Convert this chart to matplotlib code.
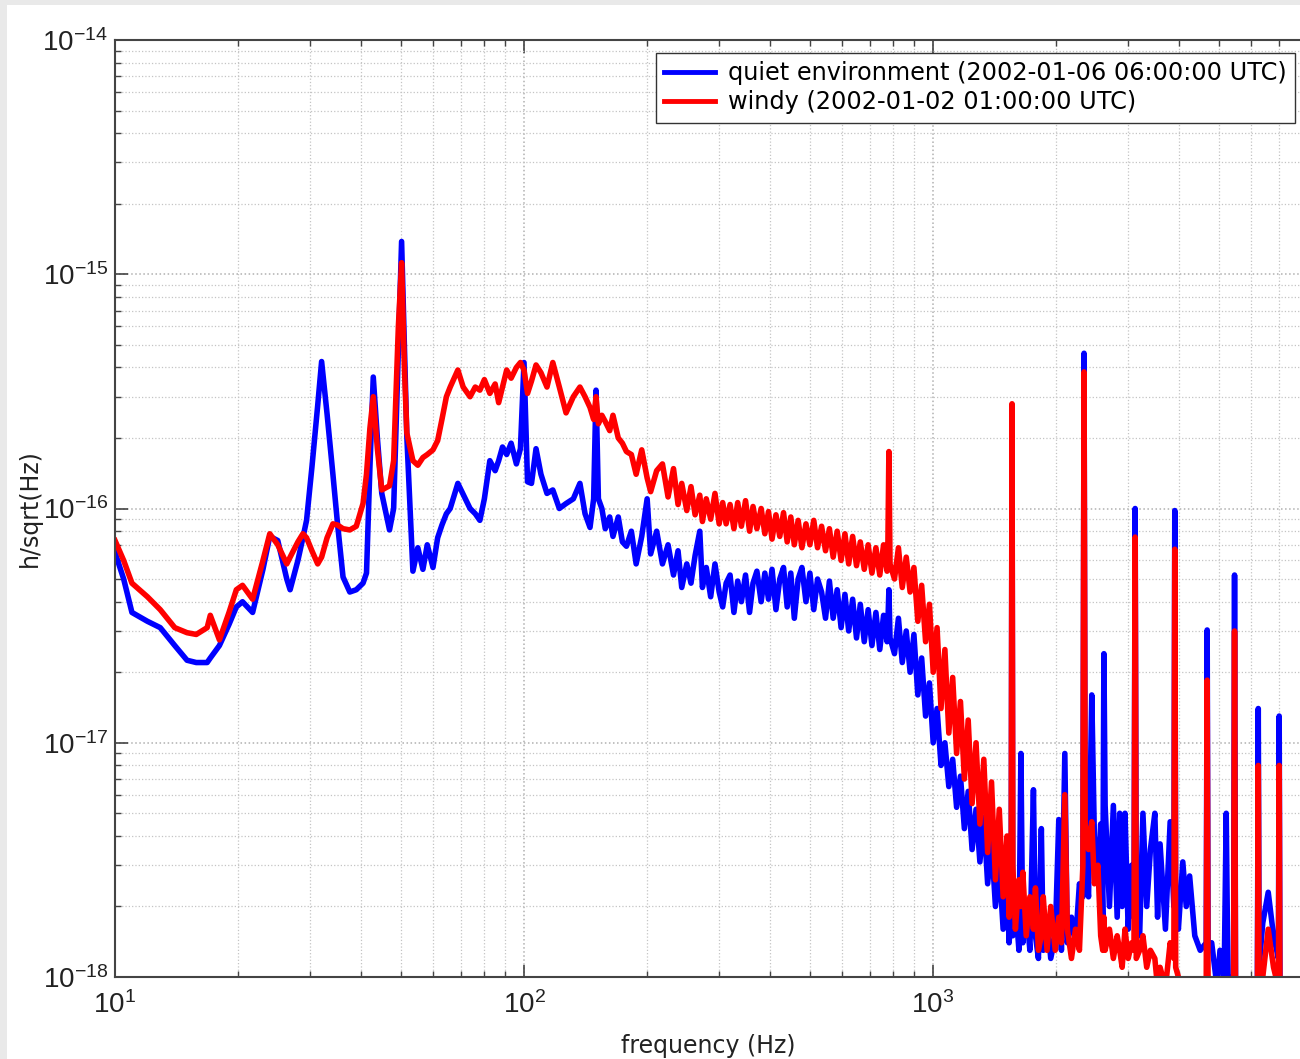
import numpy as np
import matplotlib.pyplot as plt
from matplotlib.patches import Rectangle

plt.rcParams['font.family'] = ['Liberation Sans', 'DejaVu Sans']
plt.rcParams['mathtext.fontset'] = 'custom'
plt.rcParams['mathtext.rm'] = 'Liberation Sans'
plt.rcParams['mathtext.it'] = 'Liberation Sans'
plt.rcParams['mathtext.default'] = 'regular'

# strain noise spectra, values in units of 1e-18 / sqrt(Hz)
freq = [
    10, 10.5, 11, 12, 12.9, 14, 15, 15.8, 16.8, 17.1,
    18, 19, 19.8, 20.5, 21.7, 23, 23.9, 25, 26.3, 26.8,
    28, 28.8, 29.4, 30.3, 31.3, 32, 33, 34.1, 35, 36.1,
    37.5, 38.9, 40.4, 41.2, 42, 42.8, 43.8, 44.9, 46.9, 48,
    49.3, 50.2, 51, 51.7, 53.5, 55, 56.6, 58, 59.9, 61.5,
    63, 64.6, 66, 68.9, 71, 73.8, 76, 78, 80, 82.5,
    85, 86.7, 88.6, 90.7, 93, 95.8, 98, 100, 102, 104.3,
    107, 110, 113.8, 117.6, 122, 126.7, 132, 137, 141, 145,
    148, 150, 152, 155, 158, 162, 165, 170, 174, 178,
    183, 188, 194, 200, 204, 211, 218, 225, 232, 238,
    243, 250, 256, 262, 269, 273, 279, 286, 293, 300,
    306, 312, 319, 326, 333, 340, 348, 356, 363, 371,
    380, 388, 396, 404, 413, 422, 431, 440, 449, 458,
    468, 478, 489, 500, 511, 522, 534, 546, 558, 570,
    583, 596, 609, 622, 636, 650, 664, 679, 694, 709,
    725, 741, 757, 772, 775, 780, 785, 805, 823, 841,
    860, 879, 898, 918, 938, 959, 980, 1001, 1023, 1046,
    1069, 1093, 1117, 1142, 1167, 1193, 1219, 1246, 1274, 1302,
    1331, 1360, 1390, 1421, 1452, 1484, 1517, 1535, 1553, 1560,
    1567, 1590, 1622, 1640, 1658, 1690, 1725, 1760, 1780, 1810,
    1840, 1860, 1900, 1940, 1990, 2030, 2060, 2100, 2130, 2180,
    2230, 2280, 2325, 2340, 2355, 2400, 2444, 2480, 2530, 2570,
    2600, 2617, 2635, 2700, 2760, 2820, 2860, 2900, 2947, 3000,
    3060, 3100, 3120, 3140, 3200, 3260, 3330, 3400, 3486, 3540,
    3590, 3700, 3800, 3880, 3900, 3920, 3980, 4080, 4160, 4240,
    4365, 4500, 4655, 4680, 4705, 4800, 4950, 5030, 5150, 5210,
    5260, 5430, 5460, 5490, 5600, 5800, 6000, 6210, 6240, 6270,
    6400, 6600, 6800, 6990, 7020, 7050, 7300, 7600, 8000,
]

quiet = [
    65, 50, 36, 33, 31, 26, 22.5, 22, 22, 23,
    26, 32, 38, 40, 36, 55, 76, 73, 50, 45,
    60, 75, 89, 150, 275, 424, 253, 140, 86, 51,
    44, 45, 48, 53, 150, 364, 200, 116, 81, 100,
    480, 1380, 490, 203, 54, 68, 55, 70, 56, 75,
    85, 95, 100, 128, 115, 100, 95, 89, 110, 160,
    145, 160, 183, 170, 190, 155, 180, 420, 130, 128,
    180, 140, 116, 120, 100, 105, 110, 128, 95, 83,
    110, 320, 110, 100, 82, 92, 76, 92, 72, 69,
    80, 58, 76, 110, 64, 80, 58, 70, 52, 66,
    46, 58, 48, 63, 80, 46, 56, 42, 58, 44,
    38, 48, 52, 36, 49, 40, 52, 36, 48, 54,
    40, 53, 41, 55, 37, 50, 56, 38, 53, 34,
    50, 56, 40, 53, 37, 50, 44, 34, 49, 34,
    45, 31, 43, 30, 41, 28, 39, 27, 37, 26,
    36, 25, 35, 27, 31, 45, 28, 24, 34, 22,
    30, 20, 29, 16, 23, 13, 18, 10, 14, 8,
    10, 6.5, 8.5, 5.3, 7.2, 4.3, 6.2, 3.5, 5.2, 3.1,
    4.8, 2.5, 3.8, 2.0, 3.0, 1.6, 2.4, 1.4, 2.1, 250,
    1.5, 2.1, 1.3, 9, 1.4, 2.0, 1.3, 6.3, 1.5, 1.2,
    4.3, 1.3, 1.8, 1.2, 1.5, 4.7, 1.3, 9, 1.4, 1.8,
    1.4, 2.5, 2.2, 460, 3.0, 2.2, 16, 4.0, 2.5, 4.5,
    1.8, 24, 5.4, 2.0, 5.4, 1.8, 5.0, 2.0, 5.0, 1.6,
    3.0, 1.8, 100, 1.8, 1.5, 5.0, 2.0, 3.5, 5.0, 1.8,
    3.7, 1.6, 4.6, 2.0, 98, 2.0, 1.6, 3.1, 2.0, 2.7,
    1.5, 1.3, 1.4, 30.3, 1.3, 1.4, 0.9, 1.3, 1.0, 5.0,
    1.0, 1.0, 52, 1.0, 0.9, 0.8, 0.9, 1.0, 14, 1.1,
    1.7, 2.3, 1.5, 1.2, 13, 1.0, 0.8, 0.8, 0.8,
]

windy = [
    73, 60, 48, 42, 37, 31, 29.5, 29, 31, 35,
    27.5, 36, 45, 47, 41, 60, 78, 70, 58, 62,
    72, 78, 75, 66, 58, 62, 75, 86, 85, 82,
    81, 84, 105, 140, 220, 300, 180, 120, 125, 160,
    600, 1120, 400, 210, 160, 153, 165, 170, 178, 195,
    240, 300, 330, 390, 330, 300, 330, 320, 355, 310,
    340, 283, 330, 390, 360, 400, 420, 390, 310, 350,
    410, 380, 330, 420, 330, 256, 300, 330, 300, 270,
    240, 300, 230, 250, 235, 215, 250, 200, 190, 175,
    170, 140, 178, 135, 118, 145, 155, 112, 148, 104,
    128, 98, 124, 94, 114, 88, 110, 90, 116, 86,
    106, 86, 104, 82, 106, 84, 108, 80, 102, 82,
    100, 78, 97, 74, 94, 76, 96, 72, 92, 70,
    89, 68, 86, 70, 89, 68, 84, 66, 82, 62,
    80, 60, 78, 58, 76, 57, 72, 55, 70, 53,
    68, 52, 70, 54, 62, 175, 58, 50, 68, 46,
    62, 44, 56, 33, 47, 27, 39, 20, 31, 14,
    25, 11, 19, 9, 15, 7, 12.5, 5.5, 10, 4.5,
    8.5, 3.4, 6.8, 2.6, 5.2, 2.2, 4.0, 1.8, 3.2, 280,
    3.0, 1.6, 2.6, 2.0, 2.8, 1.5, 2.2, 1.6, 2.4, 1.3,
    1.5, 2.2, 1.3, 2.0, 1.3, 1.8, 1.4, 6.0, 1.6, 1.2,
    1.6, 1.3, 3.0, 383, 4.5, 3.5, 4.6, 2.5, 3.0, 1.5,
    1.3, 1.8, 1.3, 1.6, 1.2, 1.5, 1.3, 1.1, 1.6, 1.2,
    1.4, 1.3, 75.5, 1.2, 1.3, 1.5, 1.1, 1.3, 1.2, 0.9,
    1.1, 0.9, 1.4, 1.2, 67, 1.1, 1.0, 0.9, 0.8, 0.9,
    0.8, 0.7, 0.9, 18.5, 0.8, 0.8, 0.7, 0.7, 0.7, 0.8,
    0.7, 0.8, 30, 0.8, 0.7, 0.7, 0.7, 0.8, 8, 0.8,
    1.0, 1.6, 1.1, 0.9, 8, 0.8, 0.7, 0.7, 0.7,
]

labels = ['quiet environment (2002-01-06 06:00:00 UTC)',
          'windy (2002-01-02 01:00:00 UTC)']
xticks = [1e1, 1e2, 1e3]
yticks = [1e-18, 1e-17, 1e-16, 1e-15, 1e-14]

freq = np.array(freq)
quiet = np.array(quiet) * 1e-18
windy = np.array(windy) * 1e-18

W, H = 1300, 1059
fig = plt.figure(figsize=(W / 100, H / 100), dpi=100)
fig.patch.set_facecolor('#e9e9e9')
fig.add_artist(Rectangle((7 / W, 0), 1, 1 - 5 / H, transform=fig.transFigure,
                         facecolor='white', edgecolor='none', zorder=-1))

ax = fig.add_axes([115 / W, (H - 977) / H, 1187.4 / W, 937 / H])
ax.set_xscale('log')
ax.set_yscale('log')

ax.plot(freq, quiet, color='#0000ff', lw=4.0, label=labels[0])
ax.plot(freq, windy, color='#ff0000', lw=4.0, label=labels[1])

ax.set_xlim(10, 8000)
ax.set_ylim(1e-18, 1e-14)
ax.set_xticks(xticks)
ax.set_yticks(yticks)

ax.set_axisbelow(True)
ax.grid(which='major', color='#b0b0b0', linestyle=':', linewidth=1.1)
ax.grid(which='minor', color='#c4c4c4', linestyle=':', linewidth=0.9)

for s in ['left', 'bottom', 'top']:
    ax.spines[s].set_color('#444444')
    ax.spines[s].set_linewidth(1.5)
ax.spines['right'].set_visible(False)

ax.tick_params(which='both', direction='in', top=True, right=False,
               colors='#444444', labelcolor='#222222')
ax.tick_params(which='major', length=9, width=1.2, labelsize=20)
ax.tick_params(which='minor', length=4, width=1.0)
ax.tick_params(axis='x', which='major', pad=10)
ax.tick_params(axis='y', which='major', pad=5)

label_font = {'family': ['DejaVu Sans'], 'size': 17, 'color': '#222222'}
ax.set_xlabel('frequency (Hz)', fontdict=label_font)
ax.set_ylabel('h/sqrt(Hz)', fontdict=label_font)
ax.xaxis.set_label_coords(0.5, -(1034 - 977) / 937)
ax.yaxis.set_label_coords((42 - 115) / 1187.4, 0.5)

leg = ax.legend(loc='upper right', bbox_to_anchor=(1295 / W, 1 - 53 / H),
                bbox_transform=fig.transFigure,
                prop={'family': ['DejaVu Sans'], 'size': 17.3},
                fancybox=False, framealpha=1, edgecolor='#333333',
                borderaxespad=0, handlelength=2.1, handletextpad=0.55,
                borderpad=0.35, labelspacing=0.2)
leg.get_frame().set_linewidth(1.0)
for line in leg.get_lines():
    line.set_linewidth(3.5)

fig.savefig('out.png', dpi=100, facecolor=fig.get_facecolor())
